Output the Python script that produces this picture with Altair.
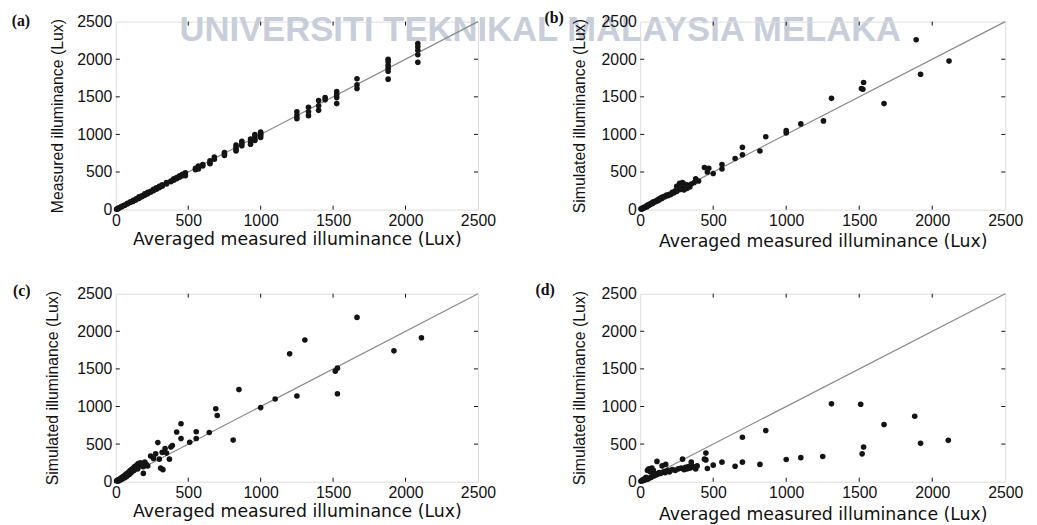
import altair as alt
import pandas as pd

tick_values = [0, 500, 1000, 1500, 2000, 2500]
inner_ticks = [500, 1000, 1500, 2000]
diag_values = [0, 2500]
x_title = "Averaged measured illuminance (Lux)"
y_titles = ["Measured illuminance (Lux)", "Simulated illuminance (Lux)",
            "Simulated illuminance (Lux)", "Simulated illuminance (Lux)"]
panel_labels = ["(a)", "(b)", "(c)", "(d)"]
watermark = "UNIVERSITI TEKNIKAL MALAYSIA MELAKA"

a_points = [
    (2085, 2210), (2085, 2165), (2085, 2120), (2085, 2060), (2085, 1960),
    (1880, 2000), (1880, 1965), (1880, 1920), (1880, 1880), (1880, 1840), (1880, 1735),
    (1665, 1740), (1665, 1660), (1665, 1610),
    (1525, 1570), (1525, 1530), (1525, 1490), (1525, 1410),
    (1445, 1490), (1445, 1460),
    (1400, 1450), (1400, 1380), (1400, 1320),
    (1330, 1360), (1330, 1300), (1330, 1250),
    (1250, 1300), (1250, 1250), (1250, 1210),
    (1000, 1030), (1000, 1010), (1000, 990), (1000, 960),
    (960, 1000), (960, 970), (960, 940), (960, 920),
    (930, 940), (930, 900), (930, 870),
    (870, 910), (870, 880), (870, 850),
    (830, 860), (830, 830), (830, 800), (830, 780),
    (750, 760), (750, 740), (750, 720),
    (680, 700), (680, 670),
    (650, 650), (650, 620), (650, 610),
    (600, 600), (600, 580),
    (570, 580), (570, 560), (570, 540),
    (550, 550), (550, 530),
    (480, 490), (480, 460), (480, 450),
    (460, 470), (460, 450), (440, 450), (440, 430), (420, 425), (420, 410),
    (400, 410), (400, 390), (380, 380), (380, 370), (350, 360), (350, 340),
    (320, 330), (320, 310), (300, 310), (300, 290), (280, 290), (280, 270),
    (260, 270), (260, 250), (240, 245), (240, 230), (220, 230), (220, 210),
    (200, 210), (200, 190), (180, 185), (180, 170), (160, 170), (160, 150),
    (140, 145), (140, 130), (120, 125), (120, 110), (100, 105), (100, 95),
    (80, 85), (80, 75), (60, 62), (60, 55), (40, 45), (40, 35),
    (20, 25), (20, 15), (10, 12), (10, 5), (5, 5),
]

b_points = [
    (5, 10), (10, 5), (15, 20), (20, 15), (25, 30), (30, 25), (40, 45), (45, 35),
    (50, 60), (60, 55), (65, 75), (70, 70), (80, 90), (85, 80), (90, 105), (100, 100),
    (105, 115), (110, 110), (120, 130), (125, 120), (130, 145), (140, 140), (145, 160),
    (150, 150), (160, 175), (170, 170), (180, 195), (190, 185), (200, 205), (210, 200),
    (220, 230), (230, 220), (240, 250), (250, 240), (260, 280), (270, 265), (280, 290),
    (290, 275), (300, 340), (310, 300), (320, 330), (330, 310), (350, 340), (370, 360),
    (380, 410), (400, 380), (270, 350), (290, 360), (250, 310), (300, 260), (320, 280),
    (340, 300),
    (440, 560), (470, 550), (460, 500), (500, 480), (560, 600), (560, 540), (650, 680),
    (700, 830), (700, 730), (820, 780), (860, 970), (1000, 1050), (1000, 1020),
    (1100, 1140), (1255, 1180), (1310, 1480), (1515, 1610), (1525, 1600), (1530, 1690),
    (1670, 1410), (1890, 2260), (1920, 1800), (2115, 1975),
]

c_points = [
    (5, 10), (10, 20), (15, 5), (20, 30), (25, 15), (30, 40), (35, 25), (40, 55),
    (45, 35), (50, 70), (55, 45), (60, 80), (65, 60), (70, 100), (75, 70), (80, 110),
    (85, 90), (90, 130), (95, 100), (100, 150), (105, 120), (110, 160), (115, 140),
    (120, 180), (125, 150), (130, 200), (140, 190), (145, 220), (150, 170), (155, 240),
    (160, 210), (170, 250), (180, 230), (190, 200), (200, 260), (210, 230), (220, 210),
    (190, 110), (240, 340), (260, 310), (275, 370), (290, 520), (300, 300), (310, 180),
    (325, 160), (320, 390), (340, 440), (350, 380), (370, 300), (380, 460), (390, 480),
    (420, 660), (450, 770), (450, 575), (510, 525), (555, 665), (555, 575), (645, 655),
    (690, 970), (700, 880), (810, 553), (850, 1225), (1000, 985), (1100, 1100),
    (1200, 1700), (1250, 1140), (1305, 1885), (1515, 1470), (1530, 1510), (1530, 1170),
    (1665, 2185), (1920, 1740), (2110, 1915),
]

d_points = [
    (5, 5), (10, 15), (15, 10), (20, 30), (25, 20), (30, 40), (35, 25), (40, 60),
    (45, 30), (50, 150), (55, 40), (60, 170), (65, 50), (70, 130), (75, 60), (80, 180),
    (85, 70), (90, 150), (95, 80), (100, 110), (110, 90), (115, 270), (120, 100),
    (130, 120), (140, 110), (150, 210), (160, 130), (170, 120), (175, 230), (180, 140),
    (190, 150), (200, 130), (220, 160), (240, 150), (260, 170), (280, 180), (290, 300),
    (300, 160), (310, 190), (320, 170), (330, 200), (340, 180), (350, 260), (360, 200),
    (370, 190), (380, 170), (390, 210),
    (440, 300), (450, 380), (450, 290), (460, 175), (500, 220), (560, 260), (650, 205),
    (700, 590), (700, 260), (820, 230), (860, 680), (1000, 295), (1100, 320), (1250, 335),
    (1310, 1035), (1510, 1030), (1520, 370), (1530, 460), (1670, 760), (1880, 870),
    (1920, 510), (2110, 550),
]

# per-panel layout: (points, width, label x/y offset, y title padding, x title padding)
panels = [
    (a_points, 366, (-96, -1), 11, 2),
    (b_points, 369, (-87, -4), 14, 4),
    (c_points, 366, (-95, -3), 16, 2),
    (d_points, 369, (-96, -4), 14, 5),
]
H = 190
TICK = 4


def make_panel(i, with_watermark=False):
    pts, W, (lx, ly), ytp, xtp = panels[i]
    df = pd.DataFrame(pts, columns=["x", "y"])
    xscale = alt.Scale(domain=[0, 2500], nice=False, zero=False)
    yscale = alt.Scale(domain=[0, 2500], nice=False, zero=False)
    xaxis = alt.Axis(values=tick_values, ticks=False, domain=False, grid=False,
                     labelFont="Liberation Sans", labelFontSize=16, labelColor="#111",
                     labelPadding=3, title=x_title, titleFont="DejaVu Sans",
                     titleFontSize=17.5, titleFontWeight="normal", titleColor="#111",
                     titlePadding=xtp, format="d", labelFlush=False)
    yaxis = alt.Axis(values=tick_values, ticks=False, domain=False, grid=False,
                     labelFont="Liberation Sans", labelFontSize=16, labelColor="#111",
                     labelPadding=4, title=y_titles[i], titleFont="Liberation Sans",
                     titleFontSize=16, titleFontWeight="normal", titleColor="#111",
                     titlePadding=ytp, format="d", labelFlush=False)

    X = alt.X("x:Q", scale=xscale, axis=xaxis)
    Y = alt.Y("y:Q", scale=yscale, axis=yaxis)

    diag = alt.Chart(pd.DataFrame({"x": diag_values, "y": diag_values})).mark_line(
        color="#8a8a8a", strokeWidth=1.2
    ).encode(x=X, y=Y)

    dots = alt.Chart(df).mark_circle(size=32, color="#141414", opacity=1).encode(x=X, y=Y)

    tdf = pd.DataFrame({"x": inner_ticks, "y": inner_ticks})
    rule = alt.Chart(tdf).mark_rule(color="#111", strokeWidth=1)
    t_bottom = rule.encode(x=X, y=alt.value(H), y2=alt.value(H - TICK))
    t_top = rule.encode(x=X, y=alt.value(0), y2=alt.value(TICK))
    t_left = rule.encode(y=Y, x=alt.value(0), x2=alt.value(TICK))
    t_right = rule.encode(y=Y, x=alt.value(W), x2=alt.value(W - TICK))

    label = alt.Chart(pd.DataFrame({"t": [panel_labels[i]]})).mark_text(
        font="Liberation Serif", fontWeight="bold", fontSize=16, color="#111",
        align="center", baseline="middle"
    ).encode(x=alt.value(lx), y=alt.value(ly), text="t:N")

    layers = []
    if with_watermark:
        wm = alt.Chart(pd.DataFrame({"t": [watermark]})).mark_text(
            font="Liberation Sans", fontWeight="bold", fontSize=35, color="#c8ced9",
            align="center", baseline="middle"
        ).encode(x=alt.value(429), y=alt.value(9), text="t:N")
        layers.append(wm)
    layers += [diag, dots, t_bottom, t_top, t_left, t_right, label]
    return alt.layer(*layers).properties(width=W, height=H)


chart = alt.concat(
    make_panel(0, with_watermark=True), make_panel(1), make_panel(2), make_panel(3),
    columns=2, spacing={"row": 85, "column": 164}, bounds="flush"
).properties(
    padding={"left": 3, "top": -2, "right": 5, "bottom": 0}
).configure_view(stroke="#111", strokeWidth=1).configure(background="white")

chart.save("out.html", embed_options={"renderer": "svg", "actions": False})
